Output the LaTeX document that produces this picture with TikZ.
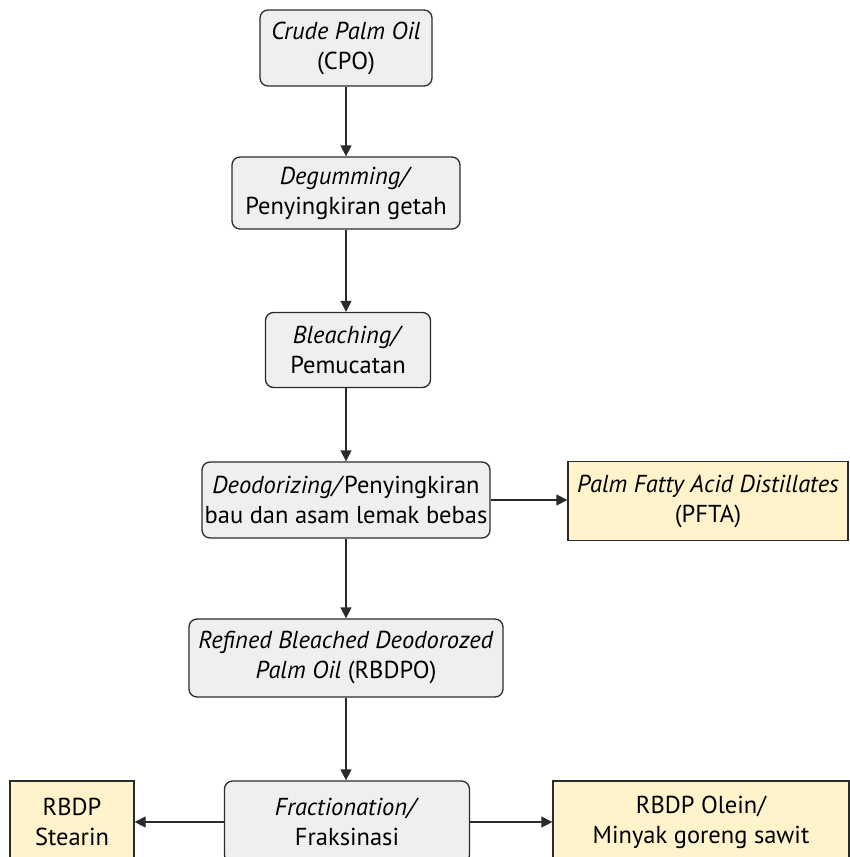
\documentclass[tikz,border=0pt]{standalone}
\usepackage{fontspec}
\setmainfont{PT Sans}
\usetikzlibrary{arrows.meta}

\definecolor{colProses}{HTML}{EEEFEF}   % grey light
\definecolor{colHasil}{HTML}{FFF3CC}    % yellow light
\definecolor{colGaris}{HTML}{2B2B2B}    % dark border

\begin{document}
\begin{tikzpicture}[
    x=1pt, y=-1pt,
    proses/.style={
        draw=colGaris, line width=1.3pt, rounded corners=8pt, fill=colProses,
        align=center, inner sep=0pt, font=\fontsize{24.5}{30}\selectfont
    },
    hasil/.style={
        draw=colGaris, line width=1.3pt, fill=colHasil,
        align=center, inner sep=0pt, font=\fontsize{24.5}{30}\selectfont
    },
    panah/.style={draw=colGaris, line width=1.3pt, -{Triangle[length=11pt,width=11pt]}}
]
\useasboundingbox (0,0) rectangle (849,857);

% ============================
% MAIN LINE (x=346)
% ============================
\node[proses, minimum width=172pt, minimum height=76pt] (cpo) at (346,48)
    {\textit{Crude Palm Oil}\\(CPO)};
\node[proses, minimum width=228pt, minimum height=72pt] (degum) at (346,193)
    {\textit{Degumming/}\\Penyingkiran getah};
\node[proses, minimum width=165pt, minimum height=75pt] (bleach) at (348,350)
    {\textit{Bleaching/}\\Pemucatan};
\node[proses, minimum width=288pt, minimum height=76pt] (deodor) at (346,500)
    {\textit{Deodorizing/}Penyingkiran\\bau dan asam lemak bebas};
\node[proses, minimum width=314pt, minimum height=78pt] (rbdpo) at (346,658)
    {\textit{Refined Bleached Deodorozed}\\\textit{Palm Oil} (RBDPO)};
\node[proses, minimum width=245pt, minimum height=82pt] (frac) at (347,822)
    {\textit{Fractionation/}\\Fraksinasi};

% ============================
% SIDE PRODUCTS
% ============================
\node[hasil, minimum width=280pt, minimum height=79pt] (pfta) at (708,501)
    {\textit{Palm Fatty Acid Distillates}\\(PFTA)};
\node[hasil, minimum width=124pt, minimum height=82pt] (stearin) at (72,822)
    {RBDP\\Stearin};
\node[hasil, minimum width=296pt, minimum height=82pt] (olein) at (701,822)
    {RBDP Olein/\\Minyak goreng sawit};

% ============================
% ARROWS
% ============================
\draw[panah] (cpo) -- (degum);
\draw[panah] (degum) -- (degum |- bleach.north);
\draw[panah] (degum |- bleach.south) -- (deodor);
\draw[panah] (deodor) -- (rbdpo);
\draw[panah] (rbdpo) -- (rbdpo |- frac.north);
\draw[panah] (deodor.east) -- (pfta.west |- deodor.east);
\draw[panah] (frac) -- (stearin);
\draw[panah] (frac) -- (olein);

\end{tikzpicture}
\end{document}
